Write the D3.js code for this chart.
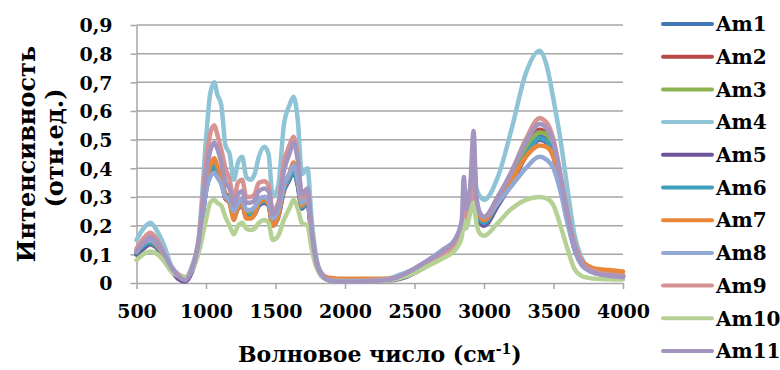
<!DOCTYPE html>
<html>
<head>
<meta charset="utf-8">
<script src="https://cdn.jsdelivr.net/npm/d3@7"></script>
<style>
  body { margin: 0; background: #fff; }
  svg { display: block; }
  text { font-family: "DejaVu Serif", "Liberation Serif", serif; font-weight: bold; fill: #000; }
</style>
</head>
<body>
<svg id="chart" width="780" height="370"></svg>
<script>
// wavenumber grid, cm-1
const wavenumbers = [500, 550, 600, 650, 700, 750, 800, 850, 900, 950,
  1000, 1030, 1060, 1080, 1110, 1140, 1170, 1200, 1230, 1260,
  1290, 1320, 1350, 1380, 1420, 1450, 1480, 1520, 1560, 1600,
  1630, 1660, 1690, 1730, 1760, 1790, 1830, 1880, 1950, 2100,
  2300, 2400, 2500, 2600, 2700, 2800, 2840, 2855, 2870, 2900,
  2925, 2945, 2975, 3000, 3100, 3200, 3300, 3400, 3450, 3500,
  3550, 3600, 3650, 3700, 3750, 3800, 3900, 4000];

const am1 = [.10,.13,.14,.125,.09,.05,.025,.015,.05,.14,
  .33,.39,.41,.39,.36,.30,.29,.24,.27,.28,
  .24,.24,.25,.28,.29,.28,.21,.24,.33,.37,
  .40,.35,.27,.29,.17,.08,.03,.012,.008,.008,
  .01,.02,.04,.07,.10,.14,.18,.25,.22,.27,
  .34,.26,.22,.21,.28,.36,.45,.51,.50,.45,
  .35,.23,.13,.07,.05,.04,.03,.025];
const am2 = [.105,.135,.145,.13,.09,.05,.025,.015,.05,.145,
  .34,.40,.425,.40,.37,.31,.30,.25,.28,.29,
  .25,.25,.26,.29,.30,.29,.22,.25,.34,.38,
  .41,.36,.28,.30,.17,.08,.03,.012,.008,.008,
  .01,.02,.04,.07,.10,.14,.18,.25,.22,.28,
  .35,.27,.23,.22,.30,.38,.47,.535,.52,.47,
  .36,.24,.13,.07,.05,.04,.03,.025];
const am3 = [.10,.13,.14,.125,.09,.05,.025,.015,.05,.14,
  .335,.395,.42,.395,.365,.305,.295,.245,.275,.285,
  .245,.245,.255,.285,.295,.285,.215,.245,.335,.375,
  .405,.355,.275,.295,.17,.08,.03,.012,.008,.008,
  .01,.02,.04,.07,.10,.14,.18,.24,.22,.27,
  .33,.26,.22,.21,.28,.36,.46,.525,.52,.46,
  .35,.23,.13,.07,.05,.04,.03,.025];
const am4 = [.15,.19,.21,.18,.13,.06,.03,.02,.06,.17,
  .50,.66,.70,.66,.62,.48,.45,.36,.42,.44,
  .37,.36,.38,.44,.475,.45,.30,.34,.55,.62,
  .65,.57,.38,.40,.22,.10,.03,.015,.01,.01,
  .015,.03,.05,.08,.11,.15,.19,.23,.22,.30,
  .45,.33,.30,.29,.37,.54,.73,.81,.76,.64,
  .50,.33,.17,.09,.055,.045,.035,.03];
const am5 = [.10,.12,.135,.12,.085,.045,.015,.005,.04,.13,
  .32,.385,.405,.385,.355,.295,.28,.23,.26,.27,
  .23,.23,.24,.27,.28,.27,.20,.23,.32,.36,
  .39,.34,.26,.28,.16,.075,.025,.01,.006,.006,
  .008,.015,.035,.065,.095,.135,.175,.24,.21,.26,
  .33,.25,.21,.20,.27,.35,.44,.50,.49,.44,
  .34,.22,.12,.065,.045,.035,.028,.022];
const am6 = [.105,.13,.14,.125,.09,.05,.025,.012,.05,.14,
  .33,.39,.41,.39,.36,.30,.285,.235,.265,.275,
  .235,.235,.245,.275,.285,.275,.205,.235,.325,.365,
  .395,.345,.265,.285,.165,.08,.03,.012,.008,.008,
  .01,.02,.04,.07,.10,.14,.18,.25,.22,.27,
  .34,.26,.22,.21,.28,.36,.445,.505,.495,.445,
  .345,.225,.125,.068,.048,.038,.03,.025];
const am7 = [.11,.14,.15,.13,.095,.05,.025,.015,.05,.15,
  .35,.41,.435,.41,.375,.30,.28,.22,.265,.275,
  .225,.225,.24,.28,.29,.275,.20,.235,.335,.38,
  .42,.365,.27,.30,.18,.085,.035,.018,.015,.015,
  .015,.022,.04,.07,.10,.14,.18,.26,.23,.28,
  .34,.27,.23,.22,.285,.36,.44,.48,.475,.44,
  .35,.235,.14,.08,.06,.05,.045,.04];
const am8 = [.11,.14,.15,.135,.10,.055,.03,.015,.05,.14,
  .32,.37,.385,.37,.345,.30,.29,.25,.28,.29,
  .255,.255,.265,.29,.30,.29,.225,.255,.34,.38,
  .41,.36,.28,.30,.18,.085,.035,.012,.008,.008,
  .012,.025,.05,.08,.115,.155,.20,.28,.25,.33,
  .42,.30,.24,.23,.28,.34,.40,.44,.43,.40,
  .32,.21,.12,.065,.045,.035,.028,.022];
const am9 = [.12,.155,.175,.15,.10,.055,.03,.02,.05,.16,
  .42,.52,.55,.52,.465,.40,.36,.29,.35,.36,
  .30,.30,.31,.35,.355,.34,.255,.28,.42,.48,
  .51,.44,.30,.31,.16,.075,.03,.012,.008,.008,
  .01,.02,.04,.07,.10,.14,.18,.25,.22,.28,
  .35,.27,.24,.23,.30,.39,.50,.575,.56,.50,
  .38,.25,.14,.075,.05,.04,.03,.025];
const am10 = [.08,.10,.11,.10,.075,.04,.025,.02,.045,.11,
  .22,.28,.29,.28,.27,.23,.20,.17,.20,.21,
  .19,.185,.19,.21,.22,.21,.15,.165,.22,.26,
  .29,.26,.21,.20,.12,.06,.025,.01,.006,.006,
  .008,.018,.035,.06,.085,.12,.16,.22,.19,.24,
  .28,.21,.17,.165,.21,.26,.29,.30,.295,.27,
  .20,.12,.05,.025,.018,.015,.013,.012];
const am11 = [.11,.14,.16,.14,.10,.055,.025,.01,.05,.15,
  .38,.46,.49,.47,.42,.35,.33,.27,.31,.32,
  .28,.28,.29,.32,.33,.32,.24,.27,.39,.45,
  .49,.43,.31,.33,.18,.08,.03,.01,.005,.005,
  .01,.025,.05,.08,.11,.16,.22,.37,.26,.33,
  .53,.30,.24,.23,.30,.39,.49,.555,.54,.49,
  .37,.24,.13,.07,.045,.035,.025,.02];

const seriesNames = ["Am1", "Am2", "Am3", "Am4", "Am5", "Am6", "Am7", "Am8", "Am9", "Am10", "Am11"];
const seriesValues = [am1, am2, am3, am4, am5, am6, am7, am8, am9, am10, am11];
const seriesColors = ["#4276b6", "#b84845", "#8db350", "#8ec4d6", "#6c559b", "#3d9fbb",
  "#e8873a", "#91a9d4", "#d79391", "#b5d196", "#a395c0"];

const xTicks = [500, 1000, 1500, 2000, 2500, 3000, 3500, 4000];
const yTicks = [0, 0.1, 0.2, 0.3, 0.4, 0.5, 0.6, 0.7, 0.8, 0.9];

const svg = d3.select("#chart");
const x = d3.scaleLinear().domain([500, 4000]).range([136.5, 623]);
const y = d3.scaleLinear().domain([0, 0.9]).range([283, 25]);
const gridColor = "#a6a6a6";
const fontFamily = "'DejaVu Serif', 'Liberation Serif', serif";

// horizontal gridlines
svg.append("g")
  .selectAll("line")
  .data(yTicks.slice(1))
  .join("line")
  .attr("x1", x(500)).attr("x2", x(4000))
  .attr("y1", d => y(d)).attr("y2", d => y(d))
  .attr("stroke", gridColor)
  .attr("stroke-width", 1.5);

// axes
const yAxis = svg.append("g")
  .attr("transform", "translate(" + x(500) + ",0)")
  .call(d3.axisLeft(y).tickValues(yTicks).tickSize(6).tickSizeOuter(0).tickPadding(18)
    .tickFormat(d => d === 0 ? "0" : d3.format(".1f")(d).replace(".", ",")));

const xAxis = svg.append("g")
  .attr("transform", "translate(0," + y(0) + ")")
  .call(d3.axisBottom(x).tickValues(xTicks).tickSize(6).tickSizeOuter(0).tickPadding(16)
    .tickFormat(d3.format("d")));

[yAxis, xAxis].forEach(ax => {
  ax.attr("font-family", fontFamily);
  ax.select(".domain").attr("stroke", gridColor).attr("stroke-width", 1.5);
  ax.selectAll(".tick line").attr("stroke", gridColor).attr("stroke-width", 1.5);
  ax.selectAll(".tick text")
    .attr("fill", "#000")
    .style("font-weight", "bold")
    .style("font-size", "19px");
});
yAxis.selectAll(".tick text").attr("dy", "0.36em");

// spectra
const line = d3.line()
  .x((d, i) => x(wavenumbers[i]))
  .y(d => y(d))
  .curve(d3.curveMonotoneX);

svg.append("g")
  .selectAll("path")
  .data(seriesValues)
  .join("path")
  .attr("d", line)
  .attr("fill", "none")
  .attr("stroke", (d, i) => seriesColors[i])
  .attr("stroke-width", 4.5)
  .attr("stroke-linejoin", "round")
  .attr("stroke-linecap", "round");

// axis titles
const xTitle = svg.append("text")
  .attr("transform", "translate(" + ((x(500) + x(4000)) / 2) + ",362)")
  .attr("text-anchor", "middle")
  .style("font-size", "22px");
xTitle.append("tspan").text("Волновое число (см");
xTitle.append("tspan").attr("baseline-shift", "super").style("font-size", "14px").text("-1");
xTitle.append("tspan").text(")");

const yMid = (y(0) + y(0.9)) / 2;
svg.append("text")
  .attr("transform", "translate(35," + yMid + ") rotate(-90)")
  .attr("text-anchor", "middle")
  .style("font-size", "24px")
  .text("Интенсивность");
svg.append("text")
  .attr("transform", "translate(63," + (yMid - 6) + ") rotate(-90)")
  .attr("text-anchor", "middle")
  .style("font-size", "24px")
  .text("(отн.ед.)");

// legend
const legend = svg.append("g")
  .selectAll("g")
  .data(seriesNames)
  .join("g")
  .attr("transform", (d, i) => "translate(663," + (24 + i * 32.7) + ")");

legend.append("line")
  .attr("x1", 0).attr("x2", 49)
  .attr("stroke", (d, i) => seriesColors[i])
  .attr("stroke-width", 4)
  .attr("stroke-linecap", "round");

legend.append("text")
  .attr("x", 53)
  .attr("dy", "0.36em")
  .style("font-size", "20px")
  .text(d => d);
</script>
</body>
</html>
